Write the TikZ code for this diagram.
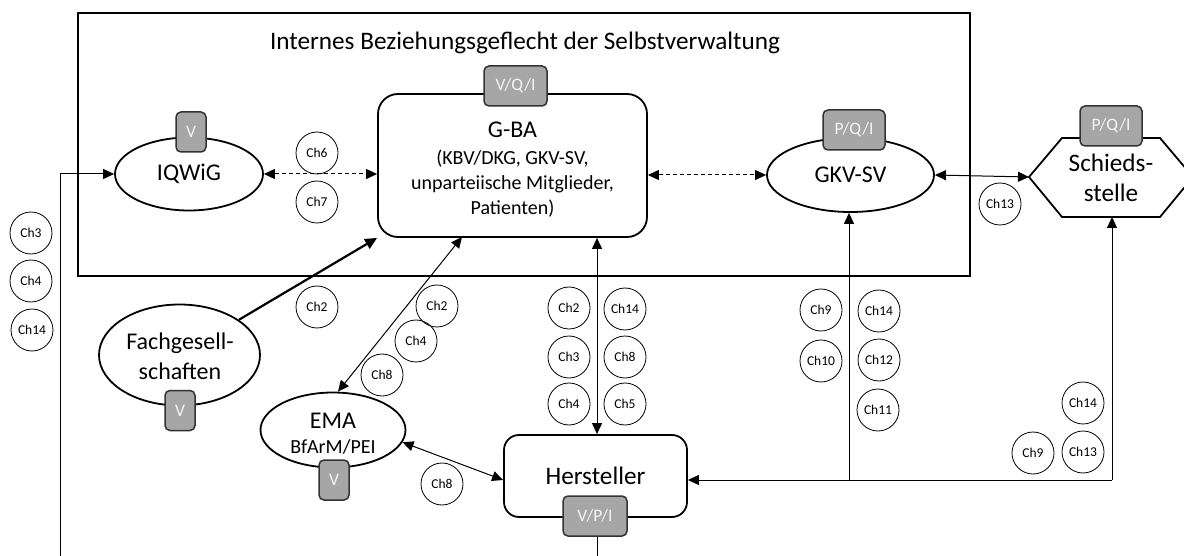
\documentclass[tikz,border=0pt]{standalone}
\usepackage{fontspec}
\setmainfont{Carlito}
\usetikzlibrary{arrows.meta,shapes.geometric}
\definecolor{tagfill}{HTML}{A6A6A6}
\definecolor{tagline}{HTML}{333333}
\definecolor{tagtext}{HTML}{F4F4F4}
\begin{document}
\begin{tikzpicture}[x=1pt,y=-1pt,
  >={Triangle[length=11pt,width=10pt]},
  bigfont/.style={font=\fontsize{24}{30}\selectfont},
  hugefont/.style={font=\fontsize{25.2}{30}\selectfont},
  midfont/.style={font=\fontsize{20}{25}\selectfont},
  ell/.style={draw, ellipse, line width=1.8pt, inner sep=0pt, fill=white},
  rbox/.style={draw, line width=1.8pt, inner sep=0pt, fill=white},
  tagbox/.style={draw=tagline, line width=1.5pt, fill=tagfill, rounded corners=5pt,
     text=tagtext, inner sep=0pt, minimum height=40pt, font=\fontsize{17.5}{20}\selectfont},
  chc/.style={draw, circle, line width=0.8pt, minimum size=42pt, inner sep=0pt,
     font=\fontsize{13.5}{16}\selectfont},
  arr/.style={->, line width=1pt},
  darr/.style={<->, line width=1pt},
  dashdarr/.style={<->, line width=1pt, dash pattern=on 4pt off 3pt},
]
\useasboundingbox (0,0) rectangle (1184,556);
\clip (0,0) rectangle (1184,556);

% outer frame
\node[draw, line width=2pt, minimum width=892pt, minimum height=263pt, inner sep=0pt] (frame) at (524,144.5) {};
\node[hugefont] (title) at (525,43) {Internes Beziehungsgeflecht der Selbstverwaltung};

% helper coordinates
\coordinate (lb) at (60,556);
\coordinate (hb) at (597,556);
\coordinate (vx) at (597,0);
\coordinate (g2) at (462,237);
\coordinate (jr) at (1112,480);
\coordinate (jm) at (849,480);
\coordinate (schW) at (1029,177);
\coordinate (schB) at (1112,217);

% main shapes
\node[rbox, rounded corners=20pt, minimum width=269pt, minimum height=143pt] (gba) at (512.5,165.5) {};
\node[bigfont] (gbat) at (512.5,130) {G-BA};
\node[midfont, align=center] (gbas) at (512.5,184) {(KBV/DKG, GKV-SV,\\unparteiische Mitglieder,\\Patienten)};

\node[ell, minimum width=148pt, minimum height=73pt, bigfont] (iqwig) at (189,174) {IQWiG};
\node[ell, minimum width=167pt, minimum height=74pt, bigfont] (gkv) at (850.5,175) {GKV-SV};
\node[ell, minimum width=161pt, minimum height=101pt] (fach) at (179.5,355) {};
\node[bigfont] (fach1) at (180,343) {Fachgesell-};
\node[bigfont] (fach2) at (180,371) {schaften};
\node[ell, minimum width=145pt, minimum height=75pt] (ema) at (333,430) {};
\node[bigfont] (ema1) at (333,421) {EMA};
\node[midfont] (ema2) at (333,447) {BfArM/PEI};
\node[rbox, rounded corners=15pt, minimum width=183pt, minimum height=82pt, hugefont] (hers) at (595.5,476) {Hersteller};

% Schiedsstelle hexagon
\draw[line width=1.8pt, fill=white] (schW) -- (1062,138) -- (1160,138) -- (1193,177) -- (1160,217) -- (1062,217) -- cycle;
\node[hugefont] (sch1) at (1111,163) {Schieds-};
\node[hugefont] (sch2) at (1111,193) {stelle};

% connectors
\draw[arr] (lb) |- (iqwig.west);
\draw[dashdarr] (iqwig.east) -- (gba.west |- iqwig.east);
\draw[dashdarr] (gba.east |- gkv.west) -- (gkv.west);
\draw[darr] (gkv.east) -- (schW);
\draw[-{Triangle[length=12pt,width=11pt]}, line width=2.2pt] (fach) -- (gba.south west);
\draw[darr] ([xshift=5pt]ema.north) -- (g2);
\draw[darr] (gba.south -| vx) -- (hers.north -| vx);
\draw[darr] (ema.-10) -- ([yshift=-4pt]hers.west);
\draw[arr] (jr) -- ([yshift=-4pt]hers.east);
\draw[arr] (jr) -- (schB);
\draw[arr] (jm) -- (gkv.south -| jm);

% tags
\node[tagbox, minimum width=30pt] (tiq) at (191,132) {V};
\node[tagbox, minimum width=63pt] (tgba) at (515.5,86) {V/Q/I};
\node[tagbox, minimum width=62pt] (tgkv) at (854,130) {P/Q/I};
\node[tagbox, minimum width=62pt] (tsch) at (1111,126) {P/Q/I};
\node[tagbox, minimum width=30pt] (tfach) at (180,410.5) {V};
\node[tagbox, minimum width=30pt] (tema) at (334,480) {V};
\node[tagbox, minimum width=64pt] (ther) at (595,516) {V/P/I};
\draw[line width=1pt] (ther.south -| hb) -- (hb);

% Ch circles
\node[chc] (c1) at (31,233) {Ch3};
\node[chc] (c2) at (31,281) {Ch4};
\node[chc] (c3) at (32,330) {Ch14};
\node[chc] (c4) at (317,153) {Ch6};
\node[chc] (c5) at (317,202) {Ch7};
\node[chc] (c6) at (317,307) {Ch2};
\node[chc] (c7) at (437,306) {Ch2};
\node[chc] (c8) at (416,341) {Ch4};
\node[chc] (c9) at (382,375) {Ch8};
\node[chc] (c10) at (569,308) {Ch2};
\node[chc] (c11) at (569,357) {Ch3};
\node[chc] (c12) at (569,404) {Ch4};
\node[chc] (c13) at (625,309) {Ch14};
\node[chc] (c14) at (625,357) {Ch8};
\node[chc] (c15) at (625,404) {Ch5};
\node[chc] (c16) at (442,484) {Ch8};
\node[chc] (c17) at (1000,204) {Ch13};
\node[chc] (c18) at (821,310) {Ch9};
\node[chc] (c19) at (821,361) {Ch10};
\node[chc] (c20) at (879,311) {Ch14};
\node[chc] (c21) at (879,360) {Ch12};
\node[chc] (c22) at (878,410) {Ch11};
\node[chc] (c23) at (1083,403) {Ch14};
\node[chc] (c24) at (1083,452) {Ch13};
\node[chc] (c25) at (1033,453) {Ch9};
\end{tikzpicture}
\end{document}
